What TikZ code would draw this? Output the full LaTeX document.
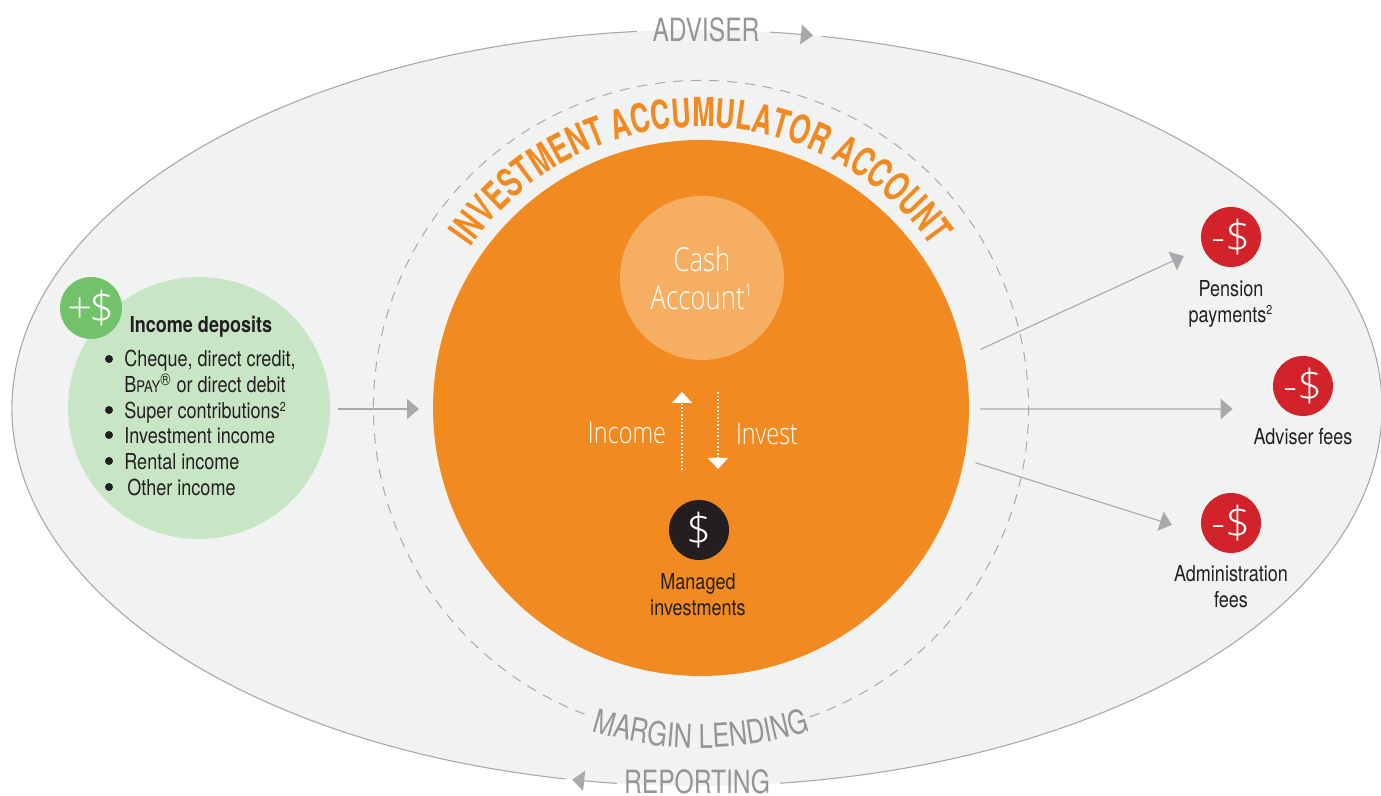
\documentclass[tikz,border=0pt]{standalone}
\usepackage{fontspec}
\setmainfont[FakeStretch=.82]{TeX Gyre Heros}
\newfontfamily\lightfont[FakeStretch=.78]{Open Sans Light}
\newfontfamily\dollarfont{Open Sans Light}
\newfontfamily\capsfont[FakeStretch=.77]{TeX Gyre Heros}
\newfontfamily\titlefont[FakeStretch=.68]{TeX Gyre Heros}
\usetikzlibrary{arrows.meta,decorations.text}
\definecolor{acct-orange}{RGB}{241,139,33}
\definecolor{cash-orange}{RGB}{245,174,98}
\definecolor{shell-grey}{RGB}{241,242,242}
\definecolor{line-grey}{RGB}{167,169,172}
\definecolor{caps-grey}{RGB}{147,149,152}
\definecolor{ink}{RGB}{35,31,32}
\definecolor{deposit-green}{RGB}{200,230,197}
\definecolor{plus-green}{RGB}{114,193,107}
\definecolor{fee-red}{RGB}{210,35,42}
\newcommand{\smallsup}[1]{\textsuperscript{\fontsize{6.5}{7}\selectfont #1}}
\newcommand{\widesup}[1]{\textsuperscript{\fontsize{8.5}{9}\selectfont #1}}
\tikzset{
  disc/.style={circle, inner sep=0pt, outer sep=0pt},
  icon-text/.style={text=white, font=\dollarfont\fontsize{22}{24}\selectfont},
  icon-red/.style={disc, fill=fee-red, minimum size=30pt, icon-text},
  label-dark/.style={text=ink, align=center, font=\fontsize{11}{13}\selectfont},
  label-list/.style={text=ink, anchor=base west, inner sep=0pt, font=\fontsize{11}{13}\selectfont},
  label-white/.style={text=white, font=\lightfont\fontsize{15}{18}\selectfont},
  label-caps/.style={text=caps-grey, inner sep=0pt, font=\capsfont\fontsize{16}{18}\selectfont},
  bullet-dot/.style={disc, fill=ink, minimum size=4pt},
  flow-arrow/.style={draw=line-grey, line width=0.55pt, -{Triangle[length=6pt,width=10pt]}},
  swap-arrow/.style={draw=white, line width=0.8pt, dash pattern=on 0.8pt off 1pt, -{Triangle[length=5.5pt,width=10pt]}},
  shell-line/.style={draw=line-grey, line width=0.55pt}
}
\begin{document}
\begin{tikzpicture}[x=0.5pt,y=0.5pt]
  \useasboundingbox (0,0) rectangle (1381,796);
  % Outer ellipse
  \fill[shell-grey] (697,388) ellipse[x radius=685, y radius=378];
  \draw[shell-line] ([shift={(79.5:685 and 378)}]697,388) arc[start angle=79.5, end angle=-83.04, x radius=685, y radius=378];
  \draw[shell-line] ([shift={(258.9:685 and 378)}]697,388) arc[start angle=258.9, end angle=95.03, x radius=685, y radius=378];
  % Dashed ring
  \draw[line-grey, line width=0.5pt, dash pattern=on 5pt off 4pt] ([shift={(-70.6:327.5)}]701,388) arc[start angle=-70.6, end angle=250.7, radius=327.5];
  % Main discs
  \node[disc, fill=acct-orange, minimum size=268pt] (account) at (701,388) {};
  \node[disc, fill=cash-orange, minimum size=82pt, align=center, text=white, font=\lightfont\fontsize{16.5}{19}\selectfont] (cash) at (702,518) {Cash\\Account\widesup{1}};
  \node[disc, fill=ink, minimum size=30pt, icon-text] (managed) at (699,266) {\$};
  \node[disc, fill=deposit-green, minimum size=131pt] (deposits) at (199,388) {};
  \node[disc, fill=plus-green, minimum size=31pt, icon-text] (plus) at (91,488) {+\kern-1.5pt\$};
  % Fee icons
  \node[icon-red] (pension) at (1231,559) {-\$};
  \node[icon-red] (adviserfee) at (1303,410) {-\$};
  \node[icon-red] (adminfee) at (1231,273) {-\$};
  % Curved titles
  \path[decorate, decoration={text along path, text align=center,
    text={|\titlefont\bfseries\fontsize{20}{22}\selectfont\color{acct-orange}|INVESTMENT ACCUMULATOR ACCOUNT}}]
    ([shift={(150:281)}]701,388) arc[start angle=150, end angle=30, radius=281];
  \path[decorate, decoration={text along path, text align=center,
    text={|\capsfont\fontsize{16.5}{18}\selectfont\color{caps-grey}|MARGIN LENDING}}]
    ([shift={(240:360)}]701,408) arc[start angle=240, end angle=300, radius=360];
  % Outer labels
  \node[label-caps] (adviser) at (706,766) {ADVISER};
  \node[label-caps] (reporting) at (697,14) {REPORTING};
  % Arrows on the ellipse
  \coordinate (adviser-tail) at ([shift={(83.88:685 and 378)}]697,388);
  \coordinate (reporting-tail) at ([shift={(-96.7:685 and 378)}]697,388);
  \draw[flow-arrow] (adviser-tail) arc[start angle=83.88, end angle=80.25, x radius=685, y radius=378];
  \draw[flow-arrow] (reporting-tail) arc[start angle=-96.7, end angle=-100.5, x radius=685, y radius=378];
  % Income deposits list
  \node[text=ink, font=\bfseries\fontsize{11}{13}\selectfont] (deposits-title) at (201,469) {Income deposits};
  \foreach \n/\xpos/\ypos/\txt in {
    cheque/124/429/{Cheque, direct credit,},
    bpay/124/403/{B{\fontsize{8}{8}\selectfont PAY}\widesup{\textregistered} or direct debit},
    super/124/377/{Super contributions\smallsup{2}},
    invest/124/352/{Investment income},
    rental/124/326/{Rental income},
    other/127/300/{Other income}}
    \node[label-list] (item-\n) at (\xpos,\ypos) {\txt};
  \foreach \n/\ypos in {a/437,b/386,c/361,d/335,e/309}
    \node[bullet-dot] (dot-\n) at (109,\ypos) {};
  % Inner labels
  \node[label-white] (income) at (627,363) {Income};
  \node[label-white] (invest) at (767,362) {Invest};
  \node[label-dark] (managed-label) at (698,201) {Managed\\investments};
  \node[label-dark] (pension-label) at (1231,492) {Pension\\payments\smallsup{2}};
  \node[label-dark] (adviserfee-label) at (1303,359) {Adviser fees};
  \node[label-dark] (adminfee-label) at (1231,209) {Administration\\fees};
  % Dotted swap arrows
  \coordinate (up-start) at (682,326);
  \coordinate (up-end) at (682,404);
  \coordinate (down-start) at (718,404);
  \coordinate (down-end) at (718,327);
  \draw[swap-arrow] (up-start) -- (up-end);
  \draw[swap-arrow] (down-start) -- (down-end);
  % Flow arrows
  \draw[flow-arrow, shorten <=4pt, shorten >=7pt] ([yshift=-.5pt]deposits.east) -- ([yshift=-.5pt]account.west);
  \draw[flow-arrow, shorten <=9pt, shorten >=10.5pt] (account.11) -- (pension.200);
  \draw[flow-arrow, shorten <=5.5pt, shorten >=25.5pt] ([yshift=-.5pt]account.east) -- (adviserfee.230);
  \draw[flow-arrow, shorten <=6pt, shorten >=16.5pt] (account.-11) -- (adminfee.203);
\end{tikzpicture}
\end{document}
